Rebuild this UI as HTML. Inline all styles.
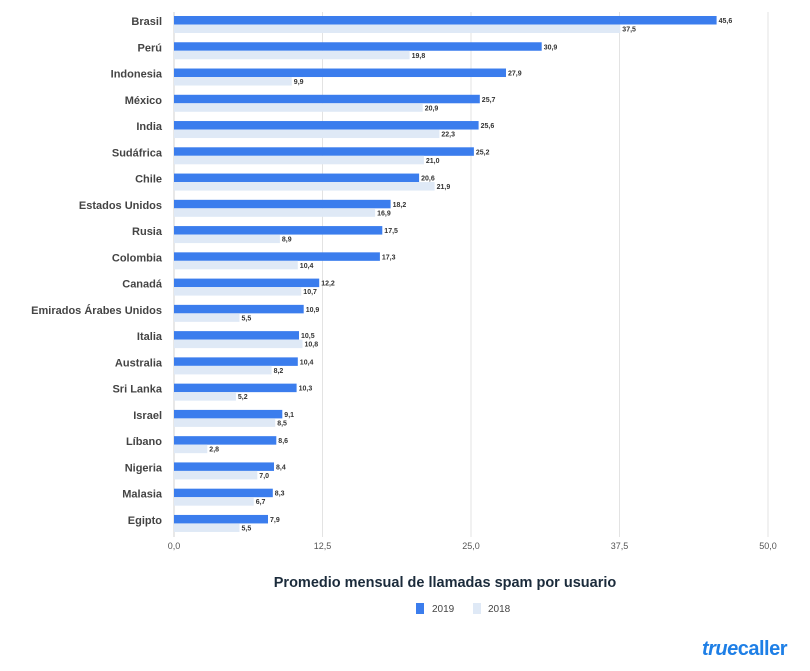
<!DOCTYPE html>
<html><head><meta charset="utf-8"><style>
html,body{margin:0;padding:0;background:#fff;}
svg{display:block;font-family:"Liberation Sans",sans-serif;}
.l{font-size:11px;font-weight:bold;fill:#444;text-anchor:end;}
.v{font-size:7px;font-weight:bold;fill:#333;}
.a{fill:#3b7ded;}
.b{fill:#dfe9f6;}
.t{font-size:9px;fill:#555;text-anchor:middle;}
</style></head><body>
<svg width="810" height="671" viewBox="0 0 810 671">
<g stroke="#e3e3e3" stroke-width="1">
<line x1="322.5" y1="12" x2="322.5" y2="537"/>
<line x1="471" y1="12" x2="471" y2="537"/>
<line x1="619.5" y1="12" x2="619.5" y2="537"/>
<line x1="768" y1="12" x2="768" y2="537"/>
</g>
<line x1="174" y1="12" x2="174" y2="537" stroke="#d0d0d0"/>

<g transform="translate(0,16)"><text class="l" x="162" y="9">Brasil</text><rect class="a" x="174" y="0" width="542.6" height="8.5"/><rect class="b" x="174" y="8.5" width="446.3" height="8.5"/><text class="v" x="718.6" y="7">45,6</text><text class="v" x="622.3" y="15.5">37,5</text></g>
<g transform="translate(0,42.26)"><text class="l" x="162" y="9">Perú</text><rect class="a" x="174" y="0" width="367.7" height="8.5"/><rect class="b" x="174" y="8.5" width="235.6" height="8.5"/><text class="v" x="543.7" y="7">30,9</text><text class="v" x="411.6" y="15.5">19,8</text></g>
<g transform="translate(0,68.52)"><text class="l" x="162" y="9">Indonesia</text><rect class="a" x="174" y="0" width="332" height="8.5"/><rect class="b" x="174" y="8.5" width="117.8" height="8.5"/><text class="v" x="508" y="7">27,9</text><text class="v" x="293.8" y="15.5">9,9</text></g>
<g transform="translate(0,94.78)"><text class="l" x="162" y="9">México</text><rect class="a" x="174" y="0" width="305.8" height="8.5"/><rect class="b" x="174" y="8.5" width="248.7" height="8.5"/><text class="v" x="481.8" y="7">25,7</text><text class="v" x="424.7" y="15.5">20,9</text></g>
<g transform="translate(0,121.04)"><text class="l" x="162" y="9">India</text><rect class="a" x="174" y="0" width="304.6" height="8.5"/><rect class="b" x="174" y="8.5" width="265.4" height="8.5"/><text class="v" x="480.6" y="7">25,6</text><text class="v" x="441.4" y="15.5">22,3</text></g>
<g transform="translate(0,147.3)"><text class="l" x="162" y="9">Sudáfrica</text><rect class="a" x="174" y="0" width="299.9" height="8.5"/><rect class="b" x="174" y="8.5" width="249.9" height="8.5"/><text class="v" x="475.9" y="7">25,2</text><text class="v" x="425.9" y="15.5">21,0</text></g>
<g transform="translate(0,173.56)"><text class="l" x="162" y="9">Chile</text><rect class="a" x="174" y="0" width="245.1" height="8.5"/><rect class="b" x="174" y="8.5" width="260.6" height="8.5"/><text class="v" x="421.1" y="7">20,6</text><text class="v" x="436.6" y="15.5">21,9</text></g>
<g transform="translate(0,199.82)"><text class="l" x="162" y="9">Estados Unidos</text><rect class="a" x="174" y="0" width="216.6" height="8.5"/><rect class="b" x="174" y="8.5" width="201.1" height="8.5"/><text class="v" x="392.6" y="7">18,2</text><text class="v" x="377.1" y="15.5">16,9</text></g>
<g transform="translate(0,226.08)"><text class="l" x="162" y="9">Rusia</text><rect class="a" x="174" y="0" width="208.3" height="8.5"/><rect class="b" x="174" y="8.5" width="105.9" height="8.5"/><text class="v" x="384.3" y="7">17,5</text><text class="v" x="281.9" y="15.5">8,9</text></g>
<g transform="translate(0,252.34)"><text class="l" x="162" y="9">Colombia</text><rect class="a" x="174" y="0" width="205.9" height="8.5"/><rect class="b" x="174" y="8.5" width="123.8" height="8.5"/><text class="v" x="381.9" y="7">17,3</text><text class="v" x="299.8" y="15.5">10,4</text></g>
<g transform="translate(0,278.6)"><text class="l" x="162" y="9">Canadá</text><rect class="a" x="174" y="0" width="145.2" height="8.5"/><rect class="b" x="174" y="8.5" width="127.3" height="8.5"/><text class="v" x="321.2" y="7">12,2</text><text class="v" x="303.3" y="15.5">10,7</text></g>
<g transform="translate(0,304.86)"><text class="l" x="162" y="9">Emirados Árabes Unidos</text><rect class="a" x="174" y="0" width="129.7" height="8.5"/><rect class="b" x="174" y="8.5" width="65.5" height="8.5"/><text class="v" x="305.7" y="7">10,9</text><text class="v" x="241.5" y="15.5">5,5</text></g>
<g transform="translate(0,331.12)"><text class="l" x="162" y="9">Italia</text><rect class="a" x="174" y="0" width="125" height="8.5"/><rect class="b" x="174" y="8.5" width="128.5" height="8.5"/><text class="v" x="301" y="7">10,5</text><text class="v" x="304.5" y="15.5">10,8</text></g>
<g transform="translate(0,357.38)"><text class="l" x="162" y="9">Australia</text><rect class="a" x="174" y="0" width="123.8" height="8.5"/><rect class="b" x="174" y="8.5" width="97.6" height="8.5"/><text class="v" x="299.8" y="7">10,4</text><text class="v" x="273.6" y="15.5">8,2</text></g>
<g transform="translate(0,383.64)"><text class="l" x="162" y="9">Sri Lanka</text><rect class="a" x="174" y="0" width="122.6" height="8.5"/><rect class="b" x="174" y="8.5" width="61.9" height="8.5"/><text class="v" x="298.6" y="7">10,3</text><text class="v" x="237.9" y="15.5">5,2</text></g>
<g transform="translate(0,409.9)"><text class="l" x="162" y="9">Israel</text><rect class="a" x="174" y="0" width="108.3" height="8.5"/><rect class="b" x="174" y="8.5" width="101.2" height="8.5"/><text class="v" x="284.3" y="7">9,1</text><text class="v" x="277.2" y="15.5">8,5</text></g>
<g transform="translate(0,436.16)"><text class="l" x="162" y="9">Líbano</text><rect class="a" x="174" y="0" width="102.3" height="8.5"/><rect class="b" x="174" y="8.5" width="33.3" height="8.5"/><text class="v" x="278.3" y="7">8,6</text><text class="v" x="209.3" y="15.5">2,8</text></g>
<g transform="translate(0,462.42)"><text class="l" x="162" y="9">Nigeria</text><rect class="a" x="174" y="0" width="100" height="8.5"/><rect class="b" x="174" y="8.5" width="83.3" height="8.5"/><text class="v" x="276" y="7">8,4</text><text class="v" x="259.3" y="15.5">7,0</text></g>
<g transform="translate(0,488.68)"><text class="l" x="162" y="9">Malasia</text><rect class="a" x="174" y="0" width="98.8" height="8.5"/><rect class="b" x="174" y="8.5" width="79.7" height="8.5"/><text class="v" x="274.8" y="7">8,3</text><text class="v" x="255.7" y="15.5">6,7</text></g>
<g transform="translate(0,514.94)"><text class="l" x="162" y="9">Egipto</text><rect class="a" x="174" y="0" width="94" height="8.5"/><rect class="b" x="174" y="8.5" width="65.5" height="8.5"/><text class="v" x="270" y="7">7,9</text><text class="v" x="241.5" y="15.5">5,5</text></g>

<text class="t" x="174" y="549">0,0</text>
<text class="t" x="322.5" y="549">12,5</text>
<text class="t" x="471" y="549">25,0</text>
<text class="t" x="619.5" y="549">37,5</text>
<text class="t" x="768" y="549">50,0</text>

<text x="445" y="587" text-anchor="middle" style="font-size:14.5px;font-weight:bold;fill:#1b2b3b">Promedio mensual de llamadas spam por usuario</text>
<rect x="416" y="603" width="8" height="11" fill="#3b7ded"/>
<text x="432" y="612" style="font-size:10px;fill:#444">2019</text>
<rect x="473" y="603" width="8" height="11" fill="#dfe9f6"/>
<text x="488" y="612" style="font-size:10px;fill:#444">2018</text>

<text x="787" y="655" text-anchor="end" style="font-size:20px;font-weight:bold;fill:#1e7fe6;letter-spacing:-0.5px"><tspan font-style="italic">true</tspan>caller</text>
</svg>
</body></html>
